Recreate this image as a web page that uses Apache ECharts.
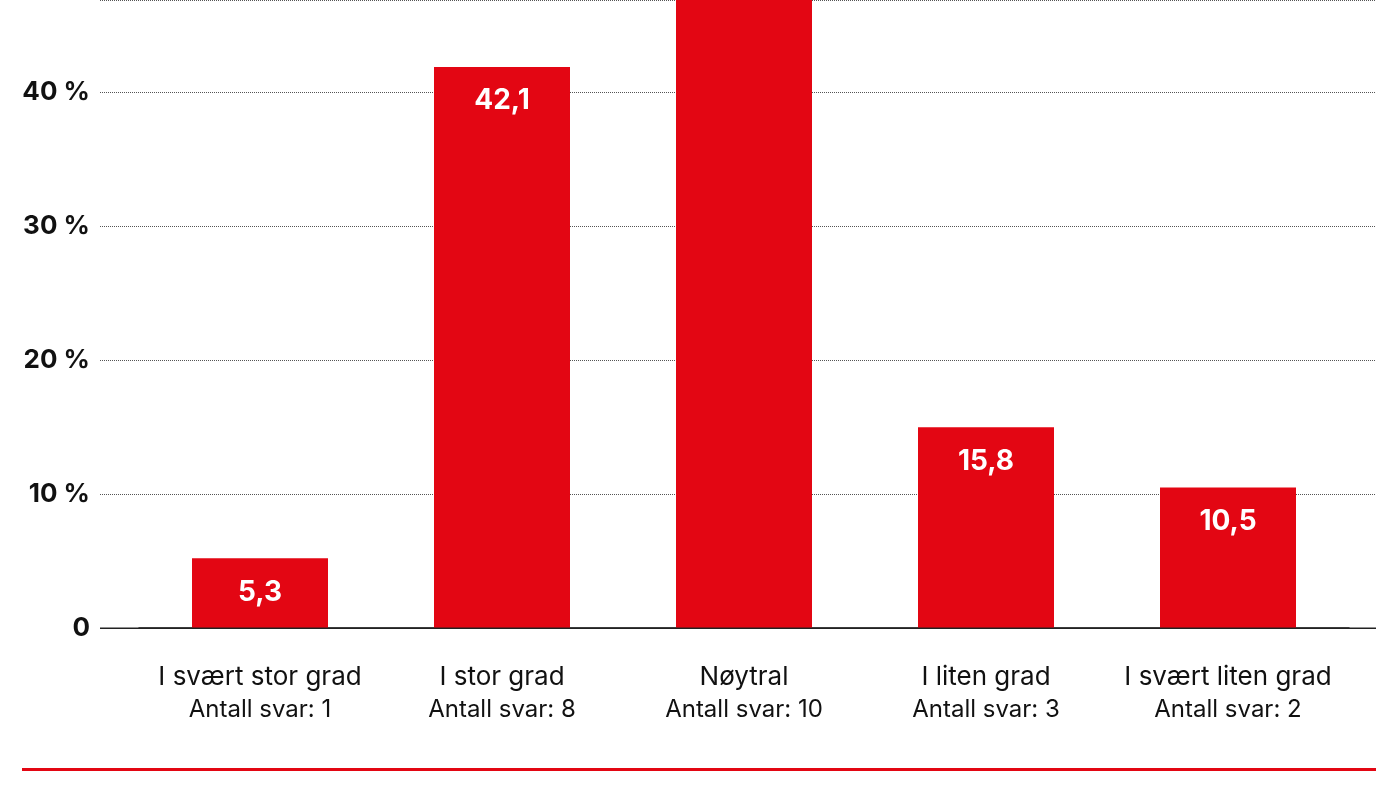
<!DOCTYPE html>
<html><head><meta charset="utf-8">
<script src="https://cdn.jsdelivr.net/npm/echarts@6/dist/echarts.min.js"></script>
<style>html,body{margin:0;padding:0;background:#fff}#c{width:1400px;height:786px}</style>
</head><body><div id="c"></div>
<script>
const categories = ["I svært stor grad","I stor grad","Nøytral","I liten grad","I svært liten grad"];
const counts = [1,8,10,3,2];
const values = [5.2,41.9,52.6,15.0,10.5];
const labels = ["5,3","42,1","52,6","15,8","10,5"];
const yTicks = [0,10,20,30,40];
const yMax = 46.9;
const chart = echarts.init(document.getElementById('c'));
chart.setOption({
  animation:false,
  grid:[{left:139,right:51,top:0,bottom:158},{left:100,right:24,top:0,bottom:158}],
  xAxis:[{type:'category',data:categories,gridIndex:0,
    axisLine:{lineStyle:{color:'#222',width:1.5}},axisTick:{show:false},
    axisLabel:{interval:0,margin:32,fontFamily:'Inter',
      formatter:(v,i)=>'{a|'+v+'}\n{b|Antall svar: '+counts[i]+'}',
      rich:{a:{fontSize:26,color:'#111',lineHeight:34,fontFamily:'Inter'},b:{fontSize:24,color:'#111',lineHeight:32,fontFamily:'Inter'}}}},
    {type:'value',gridIndex:1,show:false,min:0,max:1}],
  yAxis:[{type:'value',gridIndex:0,min:0,max:yMax,interval:10,show:false,splitLine:{show:false}},
    {type:'value',gridIndex:1,min:0,max:yMax,interval:10,
    axisLine:{show:false},axisTick:{show:false},
    axisLabel:{fontFamily:'Inter',fontWeight:'bold',fontSize:26,color:'#111',margin:10,
      formatter:v=>yTicks.includes(v)?(v===0?'0':v+' %'):''},
    splitLine:{lineStyle:{type:'dotted',color:'#555',width:1}}}],
  series:[{type:'bar',xAxisIndex:0,yAxisIndex:0,barWidth:136,clip:true,z:3,
    data:values.map((v,i)=>({value:v,label:{show:v<yMax}})),
    itemStyle:{color:'#e30613'},
    label:{position:'insideTop',distance:20,color:'#fff',fontFamily:'Inter',fontWeight:'bold',fontSize:28,
      formatter:p=>labels[p.dataIndex]}}],
  graphic:[{type:'rect',shape:{x:22,y:768,width:1354,height:3},style:{fill:'#e30613'}},
    {type:'rect',z:10,shape:{x:100,y:627.5,width:1276,height:1.5},style:{fill:'#222'}}]
});
</script></body></html>
